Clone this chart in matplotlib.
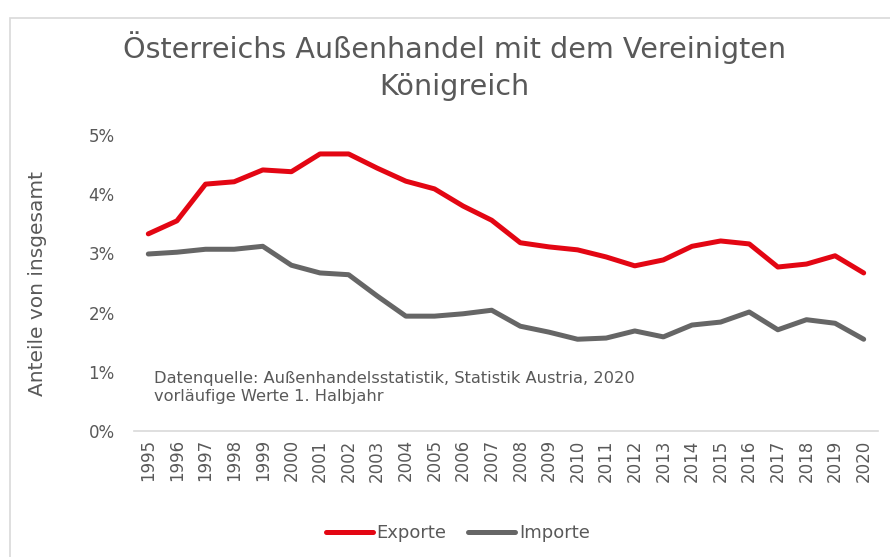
import matplotlib.pyplot as plt
from matplotlib.patches import Rectangle

# data (share of total trade, percent)
years = list(range(1995, 2021))
exporte = [3.33, 3.55, 4.17, 4.21, 4.41, 4.38, 4.68, 4.68, 4.44, 4.22, 4.09, 3.80, 3.56,
           3.18, 3.11, 3.06, 2.94, 2.79, 2.89, 3.12, 3.21, 3.16, 2.77, 2.82, 2.96, 2.67]
importe = [2.99, 3.02, 3.07, 3.07, 3.12, 2.80, 2.67, 2.64, 2.28, 1.94, 1.94, 1.98, 2.04,
           1.77, 1.67, 1.55, 1.57, 1.69, 1.59, 1.79, 1.84, 2.01, 1.71, 1.88, 1.82, 1.55]
yticks = [0, 1, 2, 3, 4, 5]

grey = '#595959'
red = '#E30613'
line_grey = '#666666'

fig = plt.figure(figsize=(8.9, 5.57), dpi=100)
fig.patches.append(Rectangle((10 / 890, -0.1), 1.2, 1 - 18 / 557 + 0.1,
                             transform=fig.transFigure, fill=False,
                             edgecolor='#d9d9d9', linewidth=1.2))

ax = fig.add_axes([134 / 890, 1 - 431 / 557, 744 / 890, 296 / 557])
ax.plot(years, exporte, color=red, lw=3.6, label='Exporte', solid_capstyle='round')
ax.plot(years, importe, color=line_grey, lw=3.6, label='Importe', solid_capstyle='round')

ax.set_xlim(1994.5, 2020.5)
ax.set_ylim(0, 5)
ax.set_yticks(yticks)
ax.set_yticklabels([f'{v}%' for v in yticks])
ax.set_xticks(years)
ax.set_xticklabels([str(y) for y in years], rotation=90)
ax.tick_params(axis='both', length=0, colors=grey, labelsize=12)
ax.tick_params(axis='y', pad=14)
ax.tick_params(axis='x', pad=6)
for s in ['top', 'right', 'left']:
    ax.spines[s].set_visible(False)
ax.spines['bottom'].set_color('#d9d9d9')
ax.spines['bottom'].set_linewidth(1.2)

ax.set_ylabel('Anteile von insgesamt', color=grey, fontsize=14.5, labelpad=30)

fig.text(0.511, 1 - 66 / 557, 'Österreichs Außenhandel mit dem Vereinigten\nKönigreich',
         ha='center', va='center', fontsize=20.6, color=grey, linespacing=1.42)

ax.text(1995.2, 0.74, 'Datenquelle: Außenhandelsstatistik, Statistik Austria, 2020\nvorläufige Werte 1. Halbjahr',
        ha='left', va='center', fontsize=11.7, color=grey, linespacing=1.25)

ax.legend(loc='center', bbox_to_anchor=(458 / 890, 1 - 533 / 557), bbox_transform=fig.transFigure,
          ncol=2, frameon=False, fontsize=13, labelcolor=grey, handlelength=2.6,
          handletextpad=0.2, columnspacing=1.2)

fig.savefig('out.png', dpi=100)
